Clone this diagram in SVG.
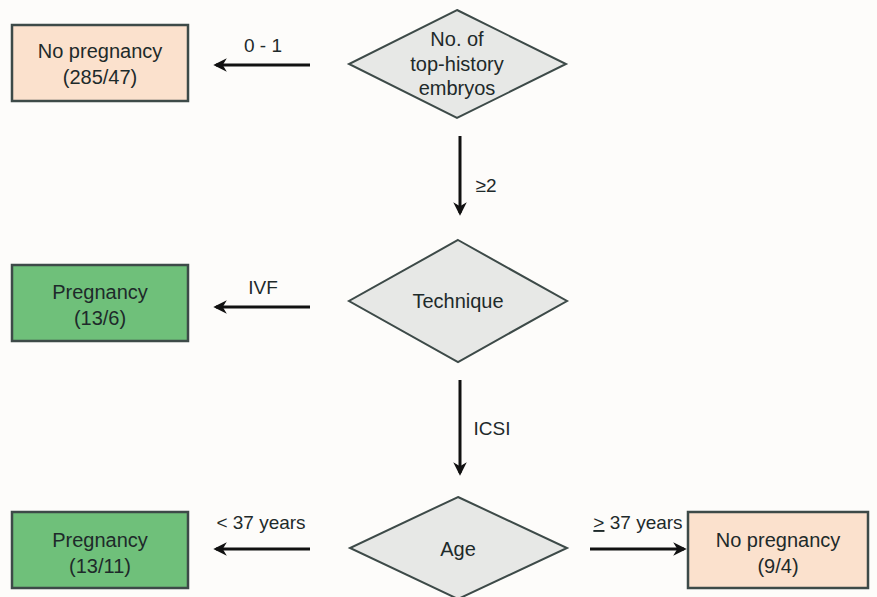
<svg xmlns="http://www.w3.org/2000/svg" width="877" height="597" viewBox="0 0 877 597">
<style>
text{font-family:"Liberation Sans",Arial,sans-serif;font-size:20px;fill:#1e2a2a;text-anchor:middle}
.lbl{font-size:19px}
.peach{fill:#fbe1cd;stroke:#3d4a48;stroke-width:2.5}
.green{fill:#6fc07a;stroke:#3d4a48;stroke-width:2.5}
.dia{fill:#e7e8e6;stroke:#3d4a48;stroke-width:2}
.edge{stroke:#111;stroke-width:3;fill:none;marker-end:url(#ah)}
</style>
<defs>
<marker id="ah" viewBox="0 0 10 10" refX="8" refY="5" markerWidth="4.5" markerHeight="4.5" orient="auto">
<path d="M0,0 L10,5 L0,10 L3,5 Z" fill="#111"/>
</marker>
</defs>
<rect width="877" height="597" fill="#fdfcfa"/>
<g id="n1"><rect class="peach" x="12" y="25" width="176" height="76"/><text x="100" y="58">No pregnancy</text><text x="100" y="84">(285/47)</text></g>
<g id="d1"><polygon class="dia" points="457,10 566,64 457,118 349,64"/><text x="457" y="46">No. of</text><text x="457" y="71">top-history</text><text x="457" y="95">embryos</text></g>
<g id="n2"><rect class="green" x="12" y="265" width="176" height="76"/><text x="100" y="299">Pregnancy</text><text x="100" y="325">(13/6)</text></g>
<g id="d2"><polygon class="dia" points="458,240 567,301 458,362 349,301"/><text x="458" y="308">Technique</text></g>
<g id="n3"><rect class="green" x="12" y="512" width="176" height="76"/><text x="100" y="547">Pregnancy</text><text x="100" y="573">(13/11)</text></g>
<g id="d3"><polygon class="dia" points="458,497 567,548 458,599 350,548"/><text x="458" y="556">Age</text></g>
<g id="n4"><rect class="peach" x="688" y="512" width="180" height="76"/><text x="778" y="547">No pregnancy</text><text x="778" y="573">(9/4)</text></g>
<g id="edges">
<line class="edge" x1="310" y1="65" x2="216" y2="65"/>
<line class="edge" x1="460" y1="136" x2="460" y2="213"/>
<line class="edge" x1="310" y1="307" x2="216" y2="307"/>
<line class="edge" x1="460" y1="380" x2="460" y2="473"/>
<line class="edge" x1="310" y1="549" x2="216" y2="549"/>
<line class="edge" x1="590" y1="549" x2="684" y2="549"/>
<text class="lbl" x="263" y="52">0 - 1</text>
<text class="lbl" x="486" y="192">≥2</text>
<text class="lbl" x="263" y="294">IVF</text>
<text class="lbl" x="492" y="435">ICSI</text>
<text class="lbl" x="261" y="529">&lt; 37 years</text>
<text class="lbl" x="638" y="529"><tspan text-decoration="underline">&gt;</tspan> 37 years</text>
</g>
</svg>
